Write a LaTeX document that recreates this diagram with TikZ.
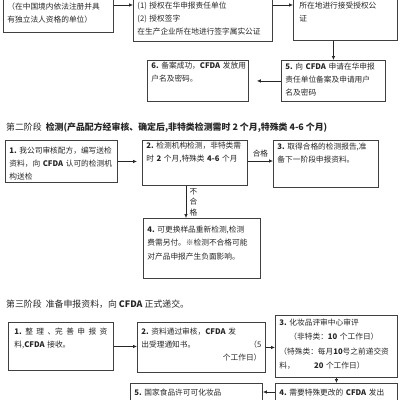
\documentclass[tikz,border=0pt]{standalone}
\usepackage{fontspec}
\setmainfont{Noto Sans CJK SC}
\usetikzlibrary{arrows.meta}

\begin{document}
\begin{tikzpicture}[x=1pt, y=-1pt, every node/.style={font=\fontsize{7.7}{13}\selectfont, text=black!85},
	box/.style={draw=black!75, line width=0.9pt, anchor=north west, align=left, inner xsep=4pt, inner ysep=2pt},
	arr/.style={-{Latex[length=4pt,width=3.6pt]}, line width=0.7pt, draw=black!85},
	stage/.style={anchor=west, font=\fontsize{8.9}{10}\selectfont, inner sep=0pt}]
	\clip (0,0) rectangle (400,400);
	\node[box, text width=102pt, text height=17pt, text depth=21pt] (reg) at (3,-10) {（在中国境内依法注册并具\\有独立法人资格的单位）};
	\node[box, text width=131pt, text height=16pt, text depth=31pt] (auth) at (133,-10) {(1)~授权在华申报责任单位\\(2)~授权签字\\在生产企业所在地进行签字属实公证};
	\node[box, text width=92pt, text height=16pt, text depth=30pt, inner xsep=6pt] (notar) at (293,-10) {所在地进行接受授权公\\证};
	\node[box, text width=96pt, text height=7pt, text depth=30pt] (apply) at (281,60) {\textbf{5.}~向~\textbf{CFDA}~申请在华申报\\责任单位备案及申请用户\\名及密码};
	\node[box, text width=93pt, text height=6pt, text depth=31pt] (done) at (147,60) {\textbf{6.}~备案成功，\textbf{CFDA}~发放用\\户名及密码。};
	\draw[arr] (reg.east |- 0,5) -- (auth.west |- 0,5);
	\draw[arr] (auth.east |- 0,5) -- (notar.west |- 0,5);
	\draw[arr] (apply.north |- notar.south) -- (apply.north);
	\draw[arr, shorten >=8pt] (apply.west) -- (apply.west -| done.east);

	\node[stage] (st2) at (6,128) {第二阶段\ \ \textbf{检测(产品配方经审核、确定后,非特类检测需时~2~个月,特殊类~4-6~个月)}};
	\node[box, text width=104pt, text height=11pt, text depth=27pt] (send) at (5,140) {\textbf{1.}~我公司审核配方，编写送检\\资料，向~\textbf{CFDA}~认可的检测机\\构送检};
	\node[box, text width=97pt, text height=6pt, text depth=35pt] (lab) at (142,140) {\textbf{2.}~检测机构检测，非特类需\\时~\textbf{2}~个月,特殊类~\textbf{4-6}~个月};
	\node[box, text width=97pt, text height=7pt, text depth=36pt] (pass) at (273,140) {\textbf{3.}~取得合格的检测报告,准\\备下一阶段申报资料。};
	\node[box, text width=109pt, text height=12pt, text depth=44pt, font=\fontsize{7.7}{13.5}\selectfont] (retest) at (143,218) {\textbf{4.}~可更换样品重新检测,检测\\费需另付。※检测不合格可能\\对产品申报产生负面影响。};
	\coordinate (fail) at (186,0);
	\draw[arr, shorten >=5pt] (send.east) -- (send.east -| lab.west);
	\draw[arr] (lab.east |- 0,161) -- (pass.west |- 0,161) node[midway, above=0pt] {合格};
	\draw[arr] (lab.south -| fail) -- (retest.north -| fail) node[midway, right, align=center, font=\fontsize{7.7}{10.5}\selectfont] {不\\合\\格};

	\node[stage] (st3) at (6,304) {第三阶段\ \ 准备申报资料，向~\textbf{CFDA}~正式递交。};
	\node[box, text width=93pt, text height=10pt, text depth=34pt, inner xsep=6pt] (file) at (8,322) {\textbf{1.}\hfill 整\hfill 理\hfill 、完\hfill 善\hfill 申\hfill 报\hfill 资\\料,\textbf{CFDA}~接收。};
	\node[box, text width=120pt, text height=10pt, text depth=36pt] (accept) at (137,322) {\textbf{2.}~资料通过审核，\textbf{CFDA}~发\\出受理通知书。\hfill（5\hspace*{14pt}\\\hfill 个工作日）};
	\node[box, text width=114pt, text height=8pt, text depth=50pt, font=\fontsize{7.7}{14.5}\selectfont] (review) at (275,315) {\textbf{3.}~化妆品评审中心审评\\\hspace*{1.3em}（非特类：\textbf{10}~个工作日）\\（特殊类：每月\textbf{10}号之前递交资\\料，\hspace*{2.5em}\textbf{20}~个工作日）};
	\node[box, text width=124pt, text height=10pt, text depth=30pt] (approve) at (130,383) {\textbf{5.}~国家食品许可可化妆品};
	\node[box, text width=114pt, text height=10pt, text depth=30pt] (notice) at (275,383) {\textbf{4.}~需要特殊更改的~\textbf{CFDA}~发出};
	\draw[arr] (file.east) -- (file.east -| accept.west);
	\draw[arr] (accept.east) -- (accept.east -| review.west);
	\draw[arr] (review.south) -- (review.south |- notice.north);
	\draw[arr] (notice.west |- 0,392) -- (approve.east |- 0,392);
\end{tikzpicture}
\end{document}
